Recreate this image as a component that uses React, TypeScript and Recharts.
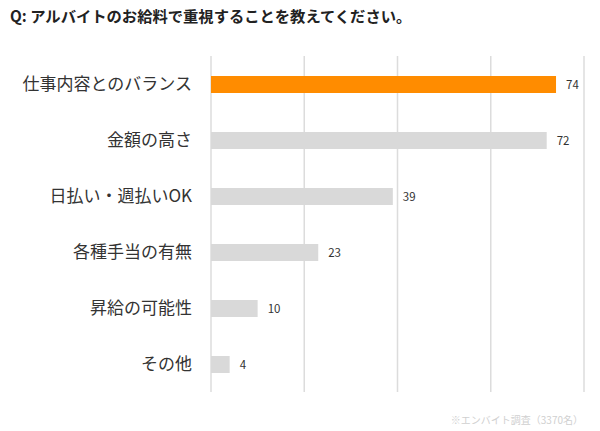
import React from 'react';
import { BarChart, Bar, XAxis, YAxis, CartesianGrid, Cell, LabelList } from 'recharts';

const categories = ['仕事内容とのバランス', '金額の高さ', '日払い・週払いOK', '各種手当の有無', '昇給の可能性', 'その他'];
const values = [74, 72, 39, 23, 10, 4];
const highlight = [true, false, false, false, false, false];
const xTicks = [0, 20, 40, 60, 80];

const data = categories.map((name, i) => ({ name, value: values[i], hi: highlight[i] }));

const FONT = '"Noto Sans CJK JP", "Noto Sans", sans-serif';

export default function App() {
  return (
    <div style={{ position: 'absolute', left: 0, top: 0, width: 600, height: 431, background: '#fff', fontFamily: FONT }}>
      <div style={{ position: 'absolute', left: 10, top: 4, fontSize: 15.3, fontWeight: 700, color: '#222', whiteSpace: 'nowrap' }}>
        Q: アルバイトのお給料で重視することを教えてください。
      </div>
      <BarChart
        width={600}
        height={431}
        data={data}
        layout="vertical"
        margin={{ top: 56, right: 16, bottom: 39, left: 0 }}
        barCategoryGap={0}
      >
        <CartesianGrid horizontal={false} vertical={true} stroke="#dcdcdc" strokeWidth={1.5} />
        <XAxis type="number" domain={[0, 80]} ticks={xTicks} hide />
        <YAxis
          type="category"
          dataKey="name"
          width={211}
          axisLine={false}
          tickLine={false}
          tickSize={0}
          tickMargin={19}
          tick={{ fontSize: 17, fill: '#333', fontFamily: FONT }}
        />
        <Bar dataKey="value" barSize={17} isAnimationActive={false}>
          {data.map((d, i) => (
            <Cell key={i} fill={d.hi ? '#FF8C00' : '#D9D9D9'} />
          ))}
          <LabelList dataKey="value" position="right" offset={10} style={{ fontSize: 11.5, fill: '#333', fontFamily: FONT }} />
        </Bar>
      </BarChart>
      <div style={{ position: 'absolute', right: 17, top: 412, fontSize: 10, color: '#d0d0d0', whiteSpace: 'nowrap' }}>
        ※エンバイト調査（3370名）
      </div>
    </div>
  );
}
